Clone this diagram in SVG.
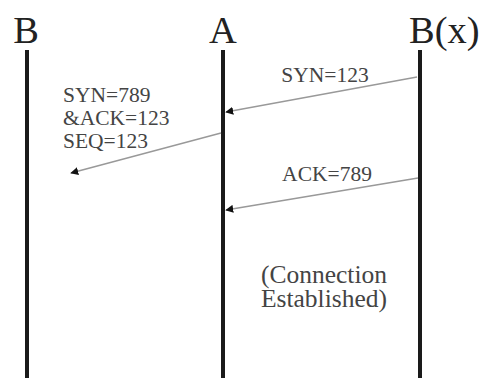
<svg xmlns="http://www.w3.org/2000/svg" width="481" height="378" viewBox="0 0 481 378">
<style>
.life{stroke:#1a1a1a;stroke-width:4}
.msg{stroke:#999;stroke-width:1.3;fill:none;marker-end:url(#ah)}
.hd{font-family:"Liberation Serif",serif;font-size:38.5px;fill:#222}
.lb{font-family:"Liberation Serif",serif;font-size:21.5px;fill:#444}
.nt{font-family:"Liberation Serif",serif;font-size:25.5px;fill:#444}
</style>
<defs>
<marker id="ah" viewBox="0 0 10 10" refX="9" refY="5" markerWidth="8" markerHeight="8" markerUnits="userSpaceOnUse" orient="auto">
<path d="M0,0 L10,5 L0,10 z" fill="#111"/>
</marker>
</defs>
<rect width="481" height="378" fill="#fff"/>
<g id="nodeB">
<text class="hd" x="26" y="43" text-anchor="middle">B</text>
<line class="life" x1="27" y1="50" x2="27" y2="378"/>
</g>
<g id="nodeA">
<text class="hd" x="223" y="43" text-anchor="middle">A</text>
<line class="life" x1="223" y1="50" x2="223" y2="378"/>
</g>
<g id="nodeBx">
<text class="hd" x="409" y="43">B(x)</text>
<line class="life" x1="420" y1="50" x2="420" y2="378"/>
</g>
<g id="connectors">
<line class="msg" x1="417" y1="77" x2="226" y2="112"/>
<line class="msg" x1="221" y1="133" x2="71" y2="173"/>
<line class="msg" x1="418" y1="178" x2="226" y2="210"/>
</g>
<g id="labels">
<text class="lb" x="325" y="82" text-anchor="middle">SYN=123</text>
<text class="lb" x="63" y="102">SYN=789</text>
<text class="lb" x="63" y="125">&amp;ACK=123</text>
<text class="lb" x="63" y="148">SEQ=123</text>
<text class="lb" x="327" y="181" text-anchor="middle">ACK=789</text>
<text class="nt" x="324" y="283" text-anchor="middle">(Connection</text>
<text class="nt" x="324" y="307" text-anchor="middle">Established)</text>
</g>
</svg>
